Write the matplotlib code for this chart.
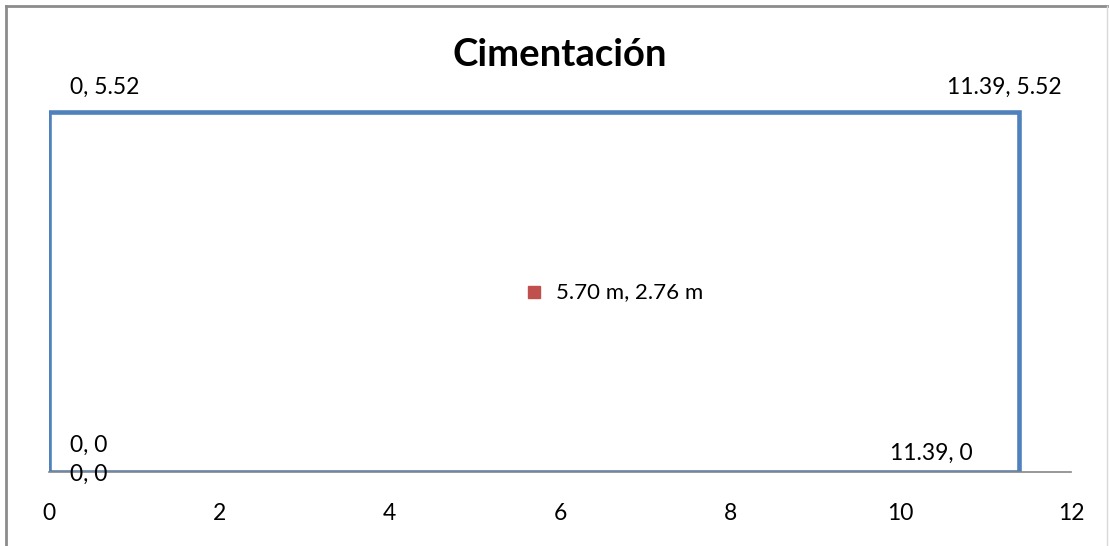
import matplotlib
matplotlib.use("Agg")
import matplotlib.pyplot as plt
from matplotlib.lines import Line2D

# Data
rect_x = [0, 11.39, 11.39, 0, 0]
rect_y = [0, 0, 5.52, 5.52, 0]
rect_labels = ["0, 0", "11.39, 0", "11.39, 5.52", "0, 5.52", "0, 0"]
center_x = [5.70]
center_y = [2.76]
center_labels = ["5.70 m, 2.76 m"]
xticks = [0, 2, 4, 6, 8, 10, 12]
title = "Cimentación"

plt.rcParams['font.family'] = ['Lato', 'DejaVu Sans']

W, H = 1110, 546
fig = plt.figure(figsize=(W / 100, H / 100), dpi=100)
ax = fig.add_axes([49 / W, (H - 472) / H, 1022 / W, 391 / H])

ax.plot(rect_x, rect_y, color='#4F81BD', lw=3.3, solid_joinstyle='miter', zorder=2)
ax.plot(center_x, center_y, 's', color='#C0504D', ms=9, zorder=3)

# label offsets (pixels) and alignment per point
offs = [((21, -2), 'left'), ((-46, 19), 'right'), ((43, 25), 'right'), ((21, 25), 'left'), ((21, 27), 'left')]
for (x, y, lab, (o, ha)) in zip(rect_x, rect_y, rect_labels, offs):
    ax.annotate(lab, (x, y), xytext=o, textcoords='offset pixels', ha=ha, va='center',
                fontsize=16.5, color='black', zorder=4)
for x, y, lab in zip(center_x, center_y, center_labels):
    ax.annotate(lab, (x, y), xytext=(22, 0), textcoords='offset pixels', ha='left', va='center',
                fontsize=16, color='black', zorder=4)

ax.set_xlim(0, 12)
ax.set_ylim(0, 6)
ax.set_xticks(xticks)
ax.set_xticklabels([str(t) for t in xticks])
ax.set_yticks([])
for s in ['top', 'right', 'left']:
    ax.spines[s].set_visible(False)
ax.spines['bottom'].set_color('#868686')
ax.spines['bottom'].set_linewidth(1.2)
ax.tick_params(axis='x', length=0, pad=22, labelsize=16.5)
ax.patch.set_visible(False)

fig.text(560 / W, 1 - 55 / H, title, ha='center', va='center', fontsize=27.5, fontweight='bold')

# chart border
fig.add_artist(Line2D([6 / W, 6 / W], [0, 1 - 6 / H], color='#8c8c8c', lw=2, transform=fig.transFigure))
fig.add_artist(Line2D([6 / W, 1107 / W], [1 - 6 / H, 1 - 6 / H], color='#8c8c8c', lw=2, transform=fig.transFigure))
fig.add_artist(Line2D([1107 / W, 1107 / W], [0, 1 - 6 / H], color='#d9d9d9', lw=1, transform=fig.transFigure))

fig.savefig('out.png', dpi=100)
